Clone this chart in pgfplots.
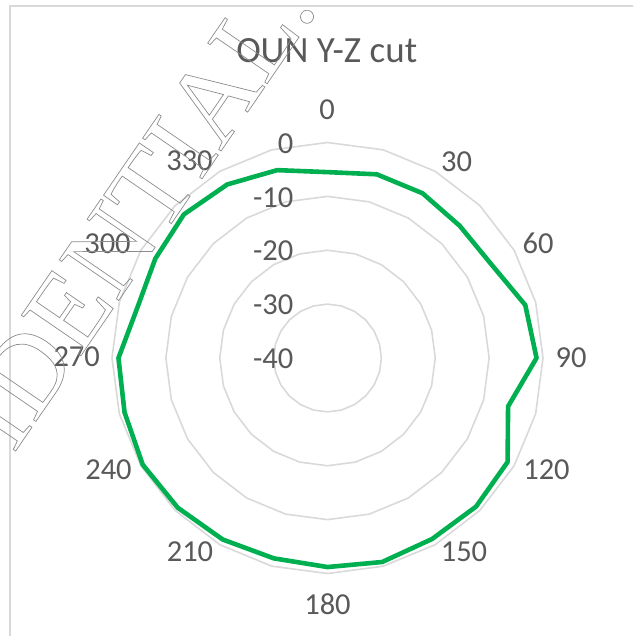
\documentclass[border=0pt]{standalone}
\usepackage{fontspec}
\setmainfont{Carlito}
\newfontfamily\wmfont{Liberation Serif}
\usepackage{pgfplots}
\usepackage{pgfplotstable}
\pgfplotsset{compat=1.18}
\definecolor{gridc}{HTML}{D9D9D9}
\definecolor{txt}{HTML}{595959}
\definecolor{series}{HTML}{00B050}

% OUN Y-Z cut: angle (deg) and level (dB)
\pgfplotstableread{
ang db
0 -5.5
15 -4.7
30 -4.7
45 -5.3
60 -5.0
75 -2.0
90 -1.2
105 -5.3
120 -1.4
135 -1.0
150 -1.2
165 -0.8
180 -1.2
195 -1.5
210 -1.1
225 -0.7
240 -0.4
255 -1.0
270 -1.2
285 -3.5
300 -3.1
315 -2.3
330 -2.8
345 -3.9
360 -5.5
}\patdata

\newcommand{\cx}{327.5}
\newcommand{\cy}{358}
\newcommand{\rs}{5.3875}
\newcommand{\lab}{\fontsize{30.5}{36}\selectfont}

\begin{document}
\begin{tikzpicture}
\path[use as bounding box] (0,0) rectangle (633pt,636pt);
\clip (0,0) rectangle (633pt,636pt);
\begin{axis}[
  anchor=south west, at={(0,0)},
  x=1pt, y=1pt, xmin=0, xmax=633, ymin=0, ymax=636,
  y dir=reverse, scale only axis, hide axis, clip=false,
  every axis plot/.append style={mark=none},
  ring/.style={gridc, line width=1.6pt, line join=round},
]
% chart border
\draw[gridc, line width=2pt] (axis cs:10,660) -- (axis cs:10,6) -- (axis cs:660,6);
% grid rings at -30, -20, -10, 0 dB
\addplot[ring] table[x expr={\cx+10*\rs*sin(\thisrow{ang})}, y expr={\cy-10*\rs*cos(\thisrow{ang})}] {\patdata};
\addplot[ring] table[x expr={\cx+20*\rs*sin(\thisrow{ang})}, y expr={\cy-20*\rs*cos(\thisrow{ang})}] {\patdata};
\addplot[ring] table[x expr={\cx+30*\rs*sin(\thisrow{ang})}, y expr={\cy-30*\rs*cos(\thisrow{ang})}] {\patdata};
\addplot[ring] table[x expr={\cx+40*\rs*sin(\thisrow{ang})}, y expr={\cy-40*\rs*cos(\thisrow{ang})}] {\patdata};
% data
\addplot[series, line width=4.6pt, line join=round]
  table[x expr={\cx+(\thisrow{db}+40)*\rs*sin(\thisrow{ang})},
        y expr={\cy-(\thisrow{db}+40)*\rs*cos(\thisrow{ang})}] {\patdata};
% radial labels
\node[txt, font=\lab, anchor=east, inner sep=0pt] at (axis cs:293.5,143.5) {0};
\node[txt, font=\lab, anchor=east, inner sep=0pt] at (axis cs:293.5,197.4) {-10};
\node[txt, font=\lab, anchor=east, inner sep=0pt] at (axis cs:293.5,251.2) {-20};
\node[txt, font=\lab, anchor=east, inner sep=0pt] at (axis cs:293.5,305.1) {-30};
\node[txt, font=\lab, anchor=east, inner sep=0pt] at (axis cs:293.5,359) {-40};
% category labels
\node[txt, font=\lab, inner sep=0pt] at (axis cs:327,110) {0};
\node[txt, font=\lab, inner sep=0pt] at (axis cs:456.7,161.7) {30};
\node[txt, font=\lab, inner sep=0pt] at (axis cs:538,243) {60};
\node[txt, font=\lab, inner sep=0pt] at (axis cs:571,357.5) {90};
\node[txt, font=\lab, inner sep=0pt] at (axis cs:546.5,470) {120};
\node[txt, font=\lab, inner sep=0pt] at (axis cs:464,551.7) {150};
\node[txt, font=\lab, inner sep=0pt] at (axis cs:327.5,604) {180};
\node[txt, font=\lab, inner sep=0pt] at (axis cs:190,551.7) {210};
\node[txt, font=\lab, inner sep=0pt] at (axis cs:108.5,470) {240};
\node[txt, font=\lab, inner sep=0pt] at (axis cs:76.7,356.7) {270};
\node[txt, font=\lab, inner sep=0pt] at (axis cs:107.5,244) {300};
\node[txt, font=\lab, inner sep=0pt] at (axis cs:189.5,161) {330};
% title
\node[txt, font=\fontsize{37}{44}\selectfont, anchor=base, inner sep=0pt] at (axis cs:326.7,63) {OUN Y-Z cut};
% watermark
\node[rotate=55.6, anchor=base east, inner sep=0pt, text=black!45,
      font=\wmfont\fontsize{110}{110}\selectfont] at (axis cs:319,8)
  {\special{pdf:literal direct 1 Tr 0.7 w}CONFIDENTIAL.\special{pdf:literal direct 0 Tr}};
\end{axis}
\end{tikzpicture}
\end{document}
